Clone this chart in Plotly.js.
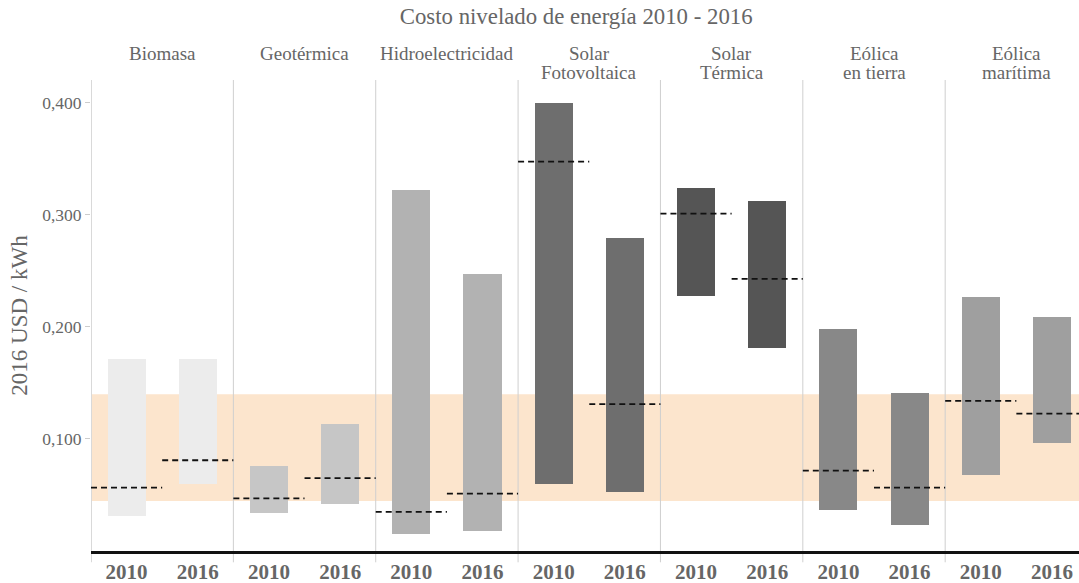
<!DOCTYPE html>
<html>
<head>
<meta charset="utf-8">
<script src="https://cdn.plot.ly/plotly-3.0.1.min.js"></script>
<style>html,body{margin:0;padding:0;background:#fff;overflow:hidden}#chart{width:1079px;height:583px}</style>
</head>
<body>
<div id="chart"></div>
<script>
// Data
const categories = ["Biomasa", "Geotérmica", "Hidroelectricidad", "Solar<br>Fotovoltaica", "Solar<br>Térmica", "Eólica<br>en tierra", "Eólica<br>marítima"];
const years = ["2010", "2016"];
const colors = ["#ececec", "#c6c6c6", "#b2b2b2", "#6e6e6e", "#555555", "#888888", "#9f9f9f"];
// per category: [2010, 2016]
const lowValues    = [[0.031, 0.060], [0.034, 0.042], [0.0155, 0.018], [0.060, 0.053], [0.228, 0.1815], [0.037, 0.023], [0.068, 0.096]];
const highValues   = [[0.171, 0.171], [0.076, 0.1134], [0.322, 0.247], [0.400, 0.2795], [0.324, 0.3125], [0.198, 0.141], [0.227, 0.209]];
const medianValues = [[0.0565, 0.081], [0.047, 0.065], [0.035, 0.0512], [0.3476, 0.1312], [0.3012, 0.2429], [0.0717, 0.0565], [0.134, 0.1226]];
const fossilRange = [0.0446, 0.140];
const yTicks = [0.1, 0.2, 0.3, 0.4];

const font = "Liberation Serif, DejaVu Serif, serif";
const grey = "#666666";

const barX = [], barY = [], barBase = [], barColor = [], tickVals = [], tickText = [];
const medX = [], medY = [];
categories.forEach((c, i) => {
  years.forEach((yr, j) => {
    const slot = 2 * i + j;
    barX.push(slot + 0.5);
    barBase.push(lowValues[i][j]);
    barY.push(highValues[i][j] - lowValues[i][j]);
    barColor.push(colors[i]);
    tickVals.push(slot + 0.5);
    tickText.push(yr);
    medX.push(slot, slot + 1, null);
    medY.push(medianValues[i][j], medianValues[i][j], null);
  });
});

const traces = [
  {type: "bar", x: barX, y: barY, base: barBase, width: 0.535,
   marker: {color: barColor, line: {width: 0}}, hoverinfo: "skip", showlegend: false},
  {type: "scatter", mode: "lines", x: medX, y: medY,
   line: {color: "#111", width: 1.8, dash: "6px,4px"}, hoverinfo: "skip", showlegend: false, connectgaps: false}
];

const shapes = [
  {type: "rect", xref: "paper", yref: "y", x0: 0, x1: 1, y0: fossilRange[0], y1: fossilRange[1],
   fillcolor: "#fce5cd", line: {width: 0}, layer: "below"}
];
for (let k = 0; k <= 12; k += 2) {
  shapes.push({type: "line", xref: "x", yref: "paper", x0: k, x1: k, y0: -0.024, y1: 1,
    line: {color: k === 0 ? "#d9d9d9" : "#cfcfcf", width: k === 0 ? 2 : 1}, layer: "below"});
}

// category headers: one annotation per line so line spacing can match
const plotTop = 80, plotH = 471;
const lineYpx = [53, 72];
const annotations = [];
categories.forEach((c, i) => {
  c.split("<br>").forEach((line, li) => {
    annotations.push({
      text: line, x: 2 * i + 1, xref: "x", y: 1 + (plotTop - lineYpx[li]) / plotH, yref: "paper",
      yanchor: "middle", xanchor: "center", showarrow: false,
      font: {family: font, size: 19, color: grey}
    });
  });
});

const layout = {
  width: 1079, height: 583,
  margin: {l: 91, r: 0, t: 80, b: 32},
  paper_bgcolor: "#fff", plot_bgcolor: "rgba(0,0,0,0)",
  separators: ",.",
  font: {family: font, color: grey},
  title: {text: "Costo nivelado de energía 2010 - 2016", x: 0.534, xref: "container", y: 0.972, yref: "container",
    xanchor: "center", yanchor: "middle", font: {family: font, size: 22.8, color: grey}},
  xaxis: {range: [0, 13.88], tickvals: tickVals, ticktext: tickText, showgrid: false, zeroline: false,
    showline: true, linecolor: "#111", linewidth: 3, ticks: "",
    tickfont: {family: font, size: 21, color: grey, weight: "bold"}, fixedrange: true},
  yaxis: {range: [0, 0.4205], tickvals: yTicks, tickformat: ".3f", showgrid: false, zeroline: false,
    showline: false, ticks: "outside", ticklen: 5, tickcolor: "#cccccc", tickwidth: 1,
    tickfont: {family: font, size: 17.5, color: grey},
    title: {text: "2016 USD / kWh", font: {family: font, size: 23, color: grey}, standoff: 8}, fixedrange: true},
  bargap: 0,
  shapes: shapes,
  annotations: annotations,
  showlegend: false
};

Plotly.newPlot("chart", traces, layout, {displayModeBar: false, staticPlot: true});
</script>
</body>
</html>
